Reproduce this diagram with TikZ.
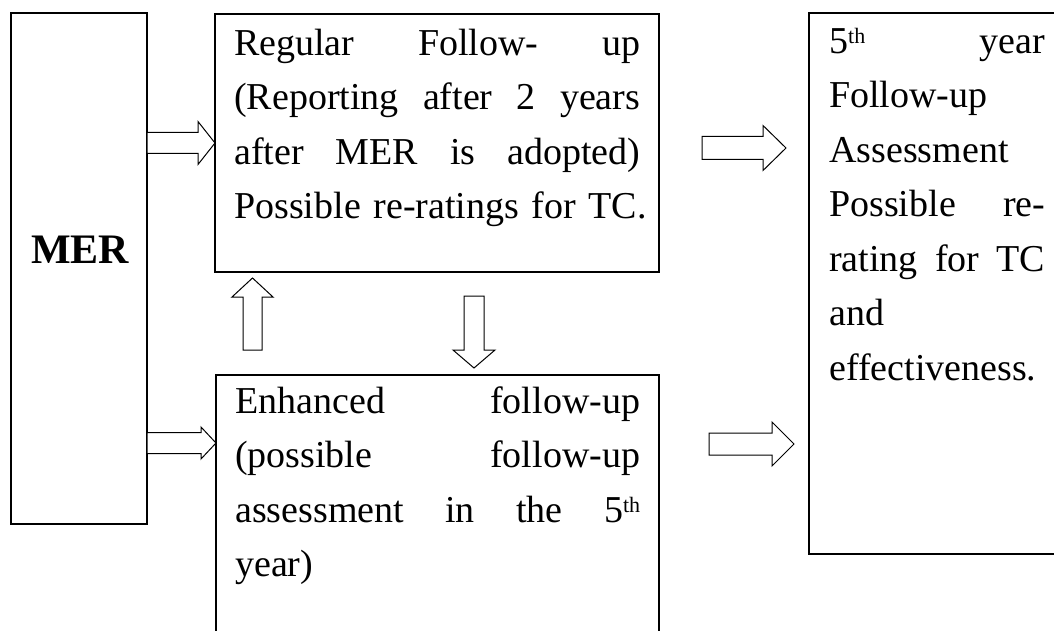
\documentclass[tikz,border=0pt]{standalone}
\usepackage{fontspec}
\setmainfont{Liberation Serif}
\usetikzlibrary{calc}
\tikzset{
  box/.style={draw=black, line width=1.4pt, rectangle, inner sep=0pt, outer sep=0pt, anchor=north west},
  txt/.style={anchor=north west, inner sep=0pt, align=left, font=\fontsize{38}{54.5}\selectfont},
  blk/.style={draw=black, line width=1pt, fill=white, line join=miter},
}
\newcommand\supth{\raisebox{10pt}{\fontsize{22}{22}\selectfont th}}
\newcommand\jline[2]{\leavevmode\hbox to #1{#2}}
\newcommand\firststrut{\rule{0pt}{30pt}}
\newcommand\blockarrow[5]{%
  \coordinate (bah) at ($(#2)!#5!(#1)$);
  \draw[blk] ($(#1)!#3!90:(#2)$) -- ($(bah)!#3!90:(#2)$) -- ($(bah)!#4!90:(#2)$) -- (#2)
    -- ($(bah)!#4!-90:(#2)$) -- ($(bah)!#3!-90:(#2)$) -- ($(#1)!#3!-90:(#2)$) -- cycle;}
\begin{document}
\begin{tikzpicture}[x=1pt,y=-1pt]
\useasboundingbox (0,0) rectangle (1054,631);
\clip (0,0) rectangle (1054,631);
\fill[white] (0,0) rectangle (1054,631);

% boxes
\node[box, minimum width=136pt, minimum height=511pt] (mer) at (11,13) {};
\node[box, minimum width=444pt, minimum height=258pt] (reg) at (215,14) {};
\node[box, minimum width=443pt, minimum height=305pt] (enh) at (216,375) {};
\node[box, minimum width=261pt, minimum height=541pt] (fifth) at (809,13) {};

% texts
\node[anchor=base, font=\fontsize{42}{42}\selectfont\bfseries] (merlabel) at (80,263) {MER};

\node[txt, text width=440pt] (regtext) at (234,25) {\firststrut\jline{406pt}{Regular\hfill Follow-\hfill up}\\
\jline{406pt}{(Reporting\hfill after\hfill 2\hfill years}\\
\jline{406pt}{after\hfill MER\hfill is\hfill adopted)}\\
Possible re-ratings for TC.};

\node[txt, text width=440pt] (enhtext) at (235,383) {\firststrut\jline{405pt}{Enhanced\hfill follow-up}\\
\jline{405pt}{(possible\hfill follow-up}\\
\jline{405pt}{assessment\hfill in\hfill the\hfill 5\supth}\\
year)};

\node[txt, text width=240pt] (fifthtext) at (829,23) {\firststrut\jline{216pt}{5\supth\hfill year}\\
Follow-up\\
Assessment\\
\jline{216pt}{Possible\hfill re-}\\
\jline{216pt}{rating\hfill for\hfill TC}\\
and\\
effectiveness.};

% block arrows
\coordinate (a1s) at (mer.east |- reg.west);
\coordinate (a1t) at (reg.west);
\blockarrow{a1s}{a1t}{10.5pt}{21.5pt}{17pt}

\coordinate (a2s) at (147,443);
\coordinate (a2t) at (enh.west |- a2s);
\blockarrow{a2s}{a2t}{10.5pt}{16pt}{15pt}

\coordinate (ups) at (252.5,350);
\coordinate (upt) at (252.5,278);
\blockarrow{ups}{upt}{9.5pt}{20.5pt}{19pt}

\coordinate (dns) at (474,296);
\coordinate (dnt) at (474,368);
\blockarrow{dns}{dnt}{10pt}{21pt}{18pt}

\coordinate (r1s) at (702,148);
\coordinate (r1t) at (786,148);
\blockarrow{r1s}{r1t}{11.5pt}{22.5pt}{23pt}

\coordinate (r2s) at (709,444);
\coordinate (r2t) at (794,444);
\blockarrow{r2s}{r2t}{11pt}{22pt}{22pt}
\end{tikzpicture}
\end{document}
